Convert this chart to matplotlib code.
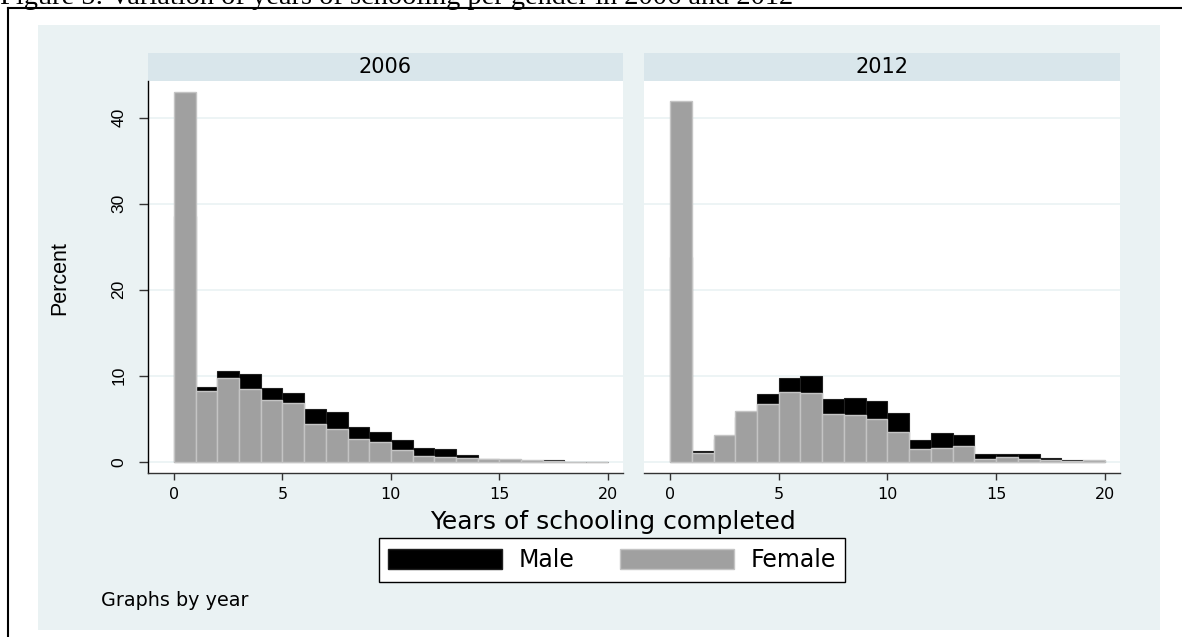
import matplotlib
matplotlib.use("Agg")
import matplotlib.pyplot as plt
import numpy as np
from matplotlib.patches import Rectangle, Patch
from matplotlib.lines import Line2D

# bins of one year, starting at 0
years = np.arange(20)
panel_years = ['2006', '2012']

male_2006 = [28.6, 8.64, 10.58, 10.23, 8.53, 7.95, 6.09, 5.81, 3.99, 3.49,
             2.48, 1.55, 1.51, 0.81, 0.35, 0.20, 0.10, 0.15, 0.0, 0.0]
female_2006 = [43.0, 8.26, 9.69, 8.45, 7.17, 6.82, 4.34, 3.84, 2.64, 2.33,
               1.36, 0.70, 0.58, 0.43, 0.27, 0.27, 0.15, 0.03, 0.0, 0.0]

male_2012 = [23.8, 1.24, 2.60, 5.20, 7.83, 9.77, 9.96, 7.29, 7.36, 7.09,
             5.70, 2.52, 3.29, 3.06, 0.93, 0.93, 0.93, 0.43, 0.15, 0.08]
female_2012 = [41.9, 1.05, 3.10, 5.89, 6.67, 8.06, 7.95, 5.54, 5.43, 4.96,
               3.49, 1.51, 1.63, 1.78, 0.35, 0.50, 0.31, 0.15, 0.05, 0.15]

x_ticks = [0, 5, 10, 15, 20]
y_ticks = [0, 10, 20, 30, 40]

caption = 'Figure 5: Variation of years of schooling per gender in 2006 and 2012'

W, H = 1182, 637
BG = '#EAF2F3'
STRIP = '#D9E6EB'
GRAY = '#A0A0A0'
GRAY_EDGE = '#C4C4C4'
SANS = 'DejaVu Sans'
ARIAL = 'Liberation Sans'


def box(x0, y0, x1, y1):
    # pixel box (top-left origin) -> figure fraction rect
    return [x0 / W, 1 - y1 / H, (x1 - x0) / W, (y1 - y0) / H]


fig = plt.figure(figsize=(W / 100, H / 100), dpi=100)
fig.patch.set_facecolor('white')

# graph region background and outer document frame
fig.patches.append(Rectangle((37.7 / W, 1 - 629.5 / H), (1159.5 - 37.7) / W, (629.5 - 25) / H,
                             transform=fig.transFigure, facecolor=BG, edgecolor='none', zorder=-10))
fig.add_artist(Line2D([7.5 / W, 1.0], [1 - 8 / H, 1 - 8 / H], color='black', lw=1.5))
fig.add_artist(Line2D([7.5 / W, 7.5 / W], [1 - 8 / H, 0.0], color='black', lw=1.5))
# document caption, mostly cut off at the top edge as in the source
fig.text(0 / W, 1 - 3.5 / H, caption, family='Liberation Serif', fontsize=20.4,
         ha='left', va='baseline', color='black')

panels = [(box(148, 81, 623, 473), male_2006, female_2006),
          (box(644, 81, 1120, 473), male_2012, female_2012)]

for i, (rect, male, female) in enumerate(panels):
    ax = fig.add_axes(rect)
    ax.set_facecolor('white')
    ax.bar(years, male, width=1, align='edge', color='black', edgecolor='#202020',
           linewidth=0.8, zorder=2)
    ax.bar(years, female, width=1, align='edge', color=GRAY, edgecolor=GRAY_EDGE,
           linewidth=1.0, zorder=3)
    ax.set_xlim(-1.2, 20.7)
    ax.set_ylim(-1.31, 44.27)
    ax.set_axisbelow(True)
    ax.set_yticks(y_ticks)
    ax.grid(axis='y', color=BG, linewidth=1.2, zorder=0)
    ax.set_xticks(x_ticks)
    ax.tick_params(axis='x', length=5, width=1, color='#333333', pad=5, labelsize=11.5)
    for lab in ax.get_xticklabels():
        lab.set_family(SANS)
    for side in ['top', 'right']:
        ax.spines[side].set_visible(False)
    ax.spines['bottom'].set_color('#333333')
    ax.spines['bottom'].set_linewidth(1.0)
    if i == 0:
        ax.spines['left'].set_color('black')
        ax.spines['left'].set_linewidth(1.0)
        ax.tick_params(axis='y', length=6.5, width=1, color='#333333', pad=9, labelsize=12.5)
        for lab in ax.get_yticklabels():
            lab.set_family(ARIAL)
            lab.set_rotation(90)
            lab.set_va('center')
    else:
        ax.spines['left'].set_visible(False)
        ax.tick_params(axis='y', left=False, labelleft=False)
    # panel strip
    ax.add_patch(Rectangle((0, 1), 1, 27.5 / 392, transform=ax.transAxes, facecolor=STRIP,
                           edgecolor='none', clip_on=False, zorder=1))
    ax.text(0.5, 1 + 13.75 / 392, panel_years[i], transform=ax.transAxes, ha='center',
            va='center', family=SANS, fontsize=15)

fig.text(60 / W, 1 - 278 / H, 'Percent', rotation=90, ha='center', va='center',
         family=ARIAL, fontsize=15.5)
fig.text(612.5 / W, 1 - 521.7 / H, 'Years of schooling completed', ha='center', va='center',
         family=SANS, fontsize=18)
fig.text(101 / W, 1 - 600 / H, 'Graphs by year', ha='left', va='center',
         family=SANS, fontsize=13.8)

handles = [Patch(facecolor='black', edgecolor='#202020'),
           Patch(facecolor=GRAY, edgecolor=GRAY_EDGE)]
leg = fig.legend(handles, ['Male', 'Female'], loc='center', bbox_to_anchor=(612 / W, 1 - 560 / H),
                 ncol=2, frameon=True, fancybox=False, edgecolor='black', framealpha=1,
                 prop={'family': SANS, 'size': 17}, handlelength=4.8, handleheight=0.97,
                 handletextpad=0.7, columnspacing=1.95, borderpad=0.42)
leg.get_frame().set_linewidth(1.0)

fig.savefig('out.png', dpi=100, facecolor='white')
